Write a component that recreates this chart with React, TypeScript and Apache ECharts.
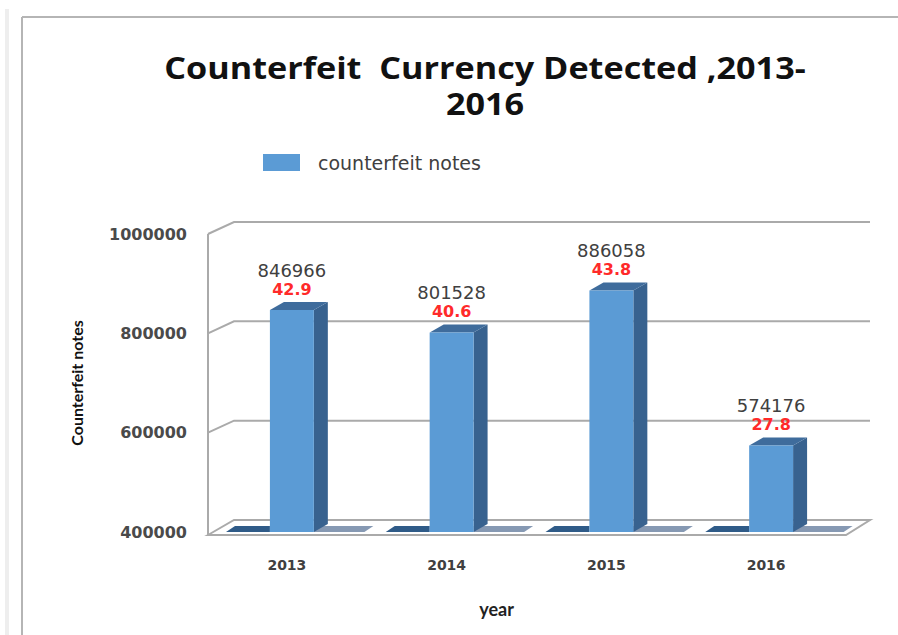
import React, { useEffect, useRef } from "react";
import * as echarts from "echarts";

const years = ["2013", "2014", "2015", "2016"];
const notes = [846966, 801528, 886058, 574176];
const pct = [42.9, 40.6, 43.8, 27.8];
const yTicks = [400000, 600000, 800000, 1000000];
const yMin = 400000;
const yMax = 1000000;
const titleLines = ["Counterfeit  Currency Detected ,2013-", "2016"];

const WALL_DX = 26;
const WALL_DY = -12;
const BAR_DX = 14;
const BAR_DY = -8;

export default function App() {
  const ref = useRef<HTMLDivElement>(null);
  useEffect(() => {
    if (!ref.current) return;
    const chart = echarts.init(ref.current, null, { renderer: "svg" });
    const titleStyle = {
      textAlign: "center",
      textVerticalAlign: "middle",
      fontFamily: "Open Sans",
      fontWeight: "bold",
      fontSize: 30,
      lineHeight: 30,
      fill: "#111111",
    };
    const option: any = {
      animation: false,
      backgroundColor: "#ffffff",
      graphic: [
        { type: "rect", shape: { x: 5, y: 9, width: 4, height: 626 }, style: { fill: "#eeeeee" }, z: 0 },
        { type: "line", shape: { x1: 22, y1: 17, x2: 898, y2: 17 }, style: { stroke: "#b5b5b5", lineWidth: 2 }, z: 0 },
        { type: "line", shape: { x1: 22, y1: 17, x2: 22, y2: 635 }, style: { stroke: "#b5b5b5", lineWidth: 2 }, z: 0 },
        {
          type: "text",
          x: 485,
          y: 67,
          scaleX: 1.14,
          style: { ...titleStyle, text: titleLines[0] },
          z: 10,
        },
        {
          type: "text",
          x: 485,
          y: 103,
          scaleX: 1.14,
          style: { ...titleStyle, text: titleLines[1] },
          z: 10,
        },
      ],
      legend: {
        data: ["counterfeit notes"],
        left: 258,
        top: 148,
        itemWidth: 37,
        itemHeight: 17,
        icon: "rect",
        selectedMode: false,
        textStyle: { fontSize: 19, color: "#404040", fontFamily: "DejaVu Sans", padding: [0, 0, 0, 13] },
      },
      grid: { left: 212, right: 47, top: 234, bottom: 103 },
      xAxis: {
        type: "category",
        data: years,
        axisLine: { show: false },
        axisTick: { show: false },
        axisLabel: {
          margin: 26,
          fontFamily: "DejaVu Sans",
          fontSize: 14,
          fontWeight: "bold",
          color: "#404040",
          padding: [0, 10, 0, 0],
        },
        name: "year",
        nameLocation: "middle",
        nameGap: 68,
        nameTextStyle: {
          fontFamily: "Lato",
          fontWeight: "bold",
          fontSize: 18,
          color: "#222222",
          padding: [0, 70, 0, 0],
        },
      },
      yAxis: {
        type: "value",
        min: yMin,
        max: yMax,
        interval: 200000,
        axisLine: { show: false },
        axisTick: { show: false },
        splitLine: { show: false },
        axisLabel: {
          margin: 25,
          fontFamily: "DejaVu Sans",
          fontSize: 16,
          fontWeight: "bold",
          color: "#4a4a4a",
          formatter: (v: number) => String(v),
        },
        name: "Counterfeit notes",
        nameLocation: "middle",
        nameGap: 128,
        nameTextStyle: { fontFamily: "Lato", fontWeight: "bold", fontSize: 16, color: "#111111" },
      },
      series: [
        {
          type: "custom",
          name: "walls",
          silent: true,
          z: 1,
          data: yTicks.map((v) => [0, v]),
          renderItem: (params: any, api: any) => {
            const cs = params.coordSys;
            const v = api.value(1);
            const y = api.coord([0, v])[1];
            const x0 = cs.x - 4;
            const x1 = cs.x + cs.width - 5;
            const children: any[] = [];
            const lineStyle = { stroke: "#aaaaaa", lineWidth: 2, fill: null };
            if (v === yMin) {
              const yTop = api.coord([0, yMax])[1];
              children.push({
                type: "polygon",
                shape: {
                  points: [
                    [x0, y + 3],
                    [x0 + WALL_DX, y + WALL_DY],
                    [x1 + WALL_DX - 2, y + WALL_DY],
                    [x1, y + 3],
                  ],
                },
                style: { fill: "#ffffff", stroke: "#aaaaaa", lineWidth: 2 },
              });
              children.push({
                type: "line",
                shape: { x1: x0, y1: yTop, x2: x0, y2: y + 3 },
                style: lineStyle,
              });
            } else {
              children.push({
                type: "polyline",
                shape: {
                  points: [
                    [x0, y],
                    [x0 + WALL_DX, y + WALL_DY],
                    [x1 + WALL_DX - 2, y + WALL_DY],
                  ],
                },
                style: lineStyle,
              });
            }
            return { type: "group", children };
          },
        },
        {
          type: "custom",
          name: "counterfeit notes",
          z: 5,
          itemStyle: { color: "#5b9bd5" },
          data: notes.map((v, i) => [i, v, pct[i]]),
          renderItem: (params: any, api: any) => {
            const i = api.value(0);
            const v = api.value(1);
            const p = api.value(2);
            const [cx, ty] = api.coord([i, v]);
            const by = api.coord([i, yMin])[1];
            const bw = api.size([1, 0])[0] * 0.275;
            const l = cx - bw / 2;
            const r = cx + bw / 2;
            return {
              type: "group",
              children: [
                {
                  type: "polygon",
                  shape: { points: [[l - bw, by], [l, by], [l, by - 6], [l - bw + 9, by - 6]] },
                  style: { fill: "#2f5b88" },
                },
                {
                  type: "polygon",
                  shape: { points: [[r, by], [r + bw * 1.15, by], [r + bw * 1.15 + 9, by - 6], [r, by - 6]] },
                  style: { fill: "#8699b3" },
                },
                {
                  type: "polygon",
                  shape: { points: [[r, ty], [r + BAR_DX, ty + BAR_DY], [r + BAR_DX, by + BAR_DY], [r, by]] },
                  style: { fill: "#38628f" },
                },
                {
                  type: "polygon",
                  shape: { points: [[l, ty], [l + BAR_DX, ty + BAR_DY], [r + BAR_DX, ty + BAR_DY], [r, ty]] },
                  style: { fill: "#3f6c9c" },
                },
                {
                  type: "rect",
                  shape: { x: l, y: ty, width: bw, height: by - ty },
                  style: { fill: "#5b9bd5" },
                },
                {
                  type: "text",
                  x: cx,
                  y: ty - 40,
                  style: {
                    text: String(v),
                    textAlign: "center",
                    textVerticalAlign: "middle",
                    fontFamily: "DejaVu Sans",
                    fontSize: 18,
                    fill: "#404040",
                  },
                },
                {
                  type: "text",
                  x: cx,
                  y: ty - 21,
                  style: {
                    text: String(p),
                    textAlign: "center",
                    textVerticalAlign: "middle",
                    fontFamily: "DejaVu Sans",
                    fontWeight: "bold",
                    fontSize: 16,
                    fill: "#ff2a2a",
                  },
                },
              ],
            };
          },
        },
      ],
    };
    chart.setOption(option);
    return () => chart.dispose();
  }, []);
  return (
    <div
      ref={ref}
      style={{ position: "fixed", left: 0, top: 0, width: 898, height: 635 }}
    />
  );
}
